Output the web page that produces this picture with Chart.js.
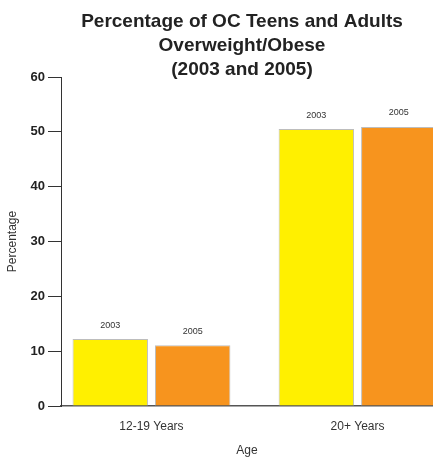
<!DOCTYPE html>
<html>
<head>
<meta charset="utf-8">
<script src="https://cdn.jsdelivr.net/npm/chart.js@4"></script>
<style>
  body { margin: 0; background: #fff; }
  #wrap { width: 433px; height: 458px; }
</style>
</head>
<body>
<div id="wrap"><canvas id="obesityChart" width="433" height="458"></canvas></div>
<script>
// ------------------ Data ------------------
const ageGroups = ["12-19 Years", "20+ Years"];
const seriesNames = ["2003", "2005"];
const values2003 = [12.2, 50.5];
const values2005 = [11.1, 50.9];
const yTicks = [0, 10, 20, 30, 40, 50, 60];

const titleLines = ["Percentage of OC Teens and Adults", "Overweight/Obese", "(2003 and 2005)"];

// draws the three-line title and the year label over each bar
const labelsPlugin = {
  id: "labelsPlugin",
  afterDraw(chart) {
    const ctx = chart.ctx;
    ctx.save();
    ctx.fillStyle = "#222";
    ctx.font = "bold 19px 'Liberation Sans', Arial, sans-serif";
    ctx.textAlign = "center";
    ctx.textBaseline = "alphabetic";
    titleLines.forEach((line, i) => ctx.fillText(line, 242, 27 + i * 24));

    ctx.textBaseline = "middle";
    ctx.font = "9px 'Liberation Sans', Arial, sans-serif";
    ctx.fillStyle = "#333";
    chart.data.datasets.forEach((ds, di) => {
      chart.getDatasetMeta(di).data.forEach(bar => {
        ctx.fillText(ds.label, bar.x, bar.y - 14);
      });
    });
    ctx.restore();
  }
};

new Chart(document.getElementById("obesityChart"), {
  type: "bar",
  data: {
    datasets: [
      {
        label: seriesNames[0],
        data: values2003.map((v, i) => ({ x: i, y: v })),
        backgroundColor: "#FFF000",
        borderColor: "#BDBDBD",
        borderWidth: 1
      },
      {
        label: seriesNames[1],
        data: values2005.map((v, i) => ({ x: i, y: v })),
        backgroundColor: "#F7941E",
        borderColor: "#BDBDBD",
        borderWidth: 1
      }
    ]
  },
  options: {
    responsive: false,
    animation: false,
    layout: { padding: { top: 77, right: 0, left: 0, bottom: 0 } },
    categoryPercentage: 0.8,
    barPercentage: 0.915,
    plugins: {
      legend: { display: false },
      tooltip: { enabled: false }
    },
    scales: {
      x: {
        type: "linear",
        offset: false,
        min: -0.439,
        max: 1.366,
        afterBuildTicks(scale) {
          scale.ticks = ageGroups.map((_, i) => ({ value: i }));
        },
        afterFit(scale) { scale.height = 52; },
        grid: { display: true, offset: false, drawOnChartArea: false, drawTicks: false },
        border: { color: "#555", width: 1.5 },
        ticks: {
          padding: 13,
          color: "#333",
          font: { family: "'Liberation Sans', Arial, sans-serif", size: 12 },
          callback: v => ageGroups[v]
        },
        title: {
          display: true,
          text: "Age",
          color: "#333",
          padding: { top: 6, bottom: 0 },
          font: { family: "'Liberation Sans', Arial, sans-serif", size: 12 }
        }
      },
      y: {
        min: 0,
        max: 60,
        afterBuildTicks(scale) {
          scale.ticks = yTicks.map(v => ({ value: v }));
        },
        afterFit(scale) { scale.width = 61; },
        grid: { drawOnChartArea: false, tickLength: 13, color: "#333" },
        border: { color: "#333", width: 1 },
        ticks: {
          padding: 3,
          color: "#222",
          font: { family: "'Liberation Sans', Arial, sans-serif", size: 13, weight: "bold" }
        },
        title: {
          display: true,
          text: "Percentage",
          color: "#333",
          padding: { top: 5, bottom: 0 },
          font: { family: "'Liberation Sans', Arial, sans-serif", size: 12 }
        }
      }
    }
  },
  plugins: [labelsPlugin]
});
</script>
</body>
</html>
